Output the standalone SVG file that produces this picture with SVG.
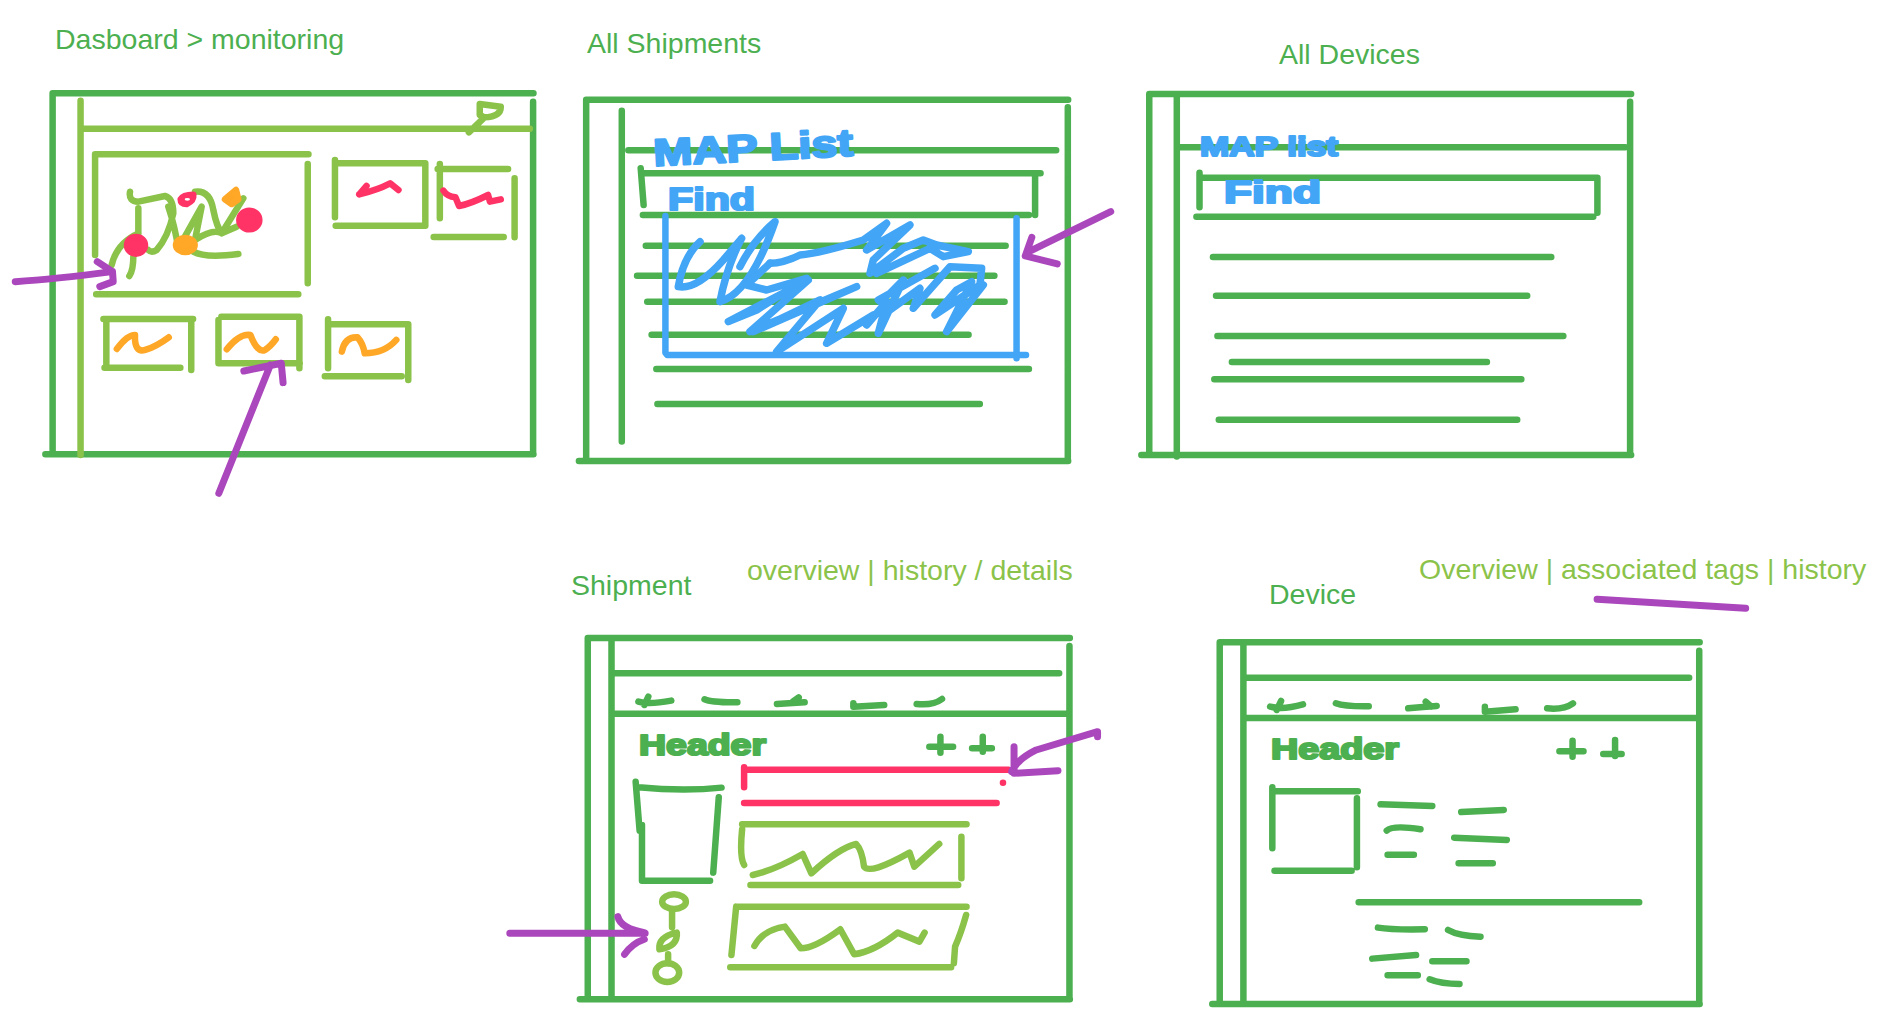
<svg xmlns="http://www.w3.org/2000/svg" width="1889" height="1024" viewBox="0 0 1889 1024">
<style>
path,ellipse,circle{fill:none;stroke-width:6.5;stroke-linecap:round;stroke-linejoin:round;vector-effect:non-scaling-stroke}
.d{stroke:#4CAF50}.l{stroke:#8BC34A}.b{stroke:#42A5F5}.p{stroke:#FF3366}.o{stroke:#FFA726}
.s{stroke:#42A5F5;stroke-width:7.5}
.a{stroke:#AB47BC;stroke-width:7}
.fp{fill:#FF3366;stroke:#FF3366}.fo{fill:#FFA726;stroke:#FFA726}
.hole{fill:#fff;stroke:none}
text{font-family:"Liberation Sans",Arial,sans-serif;font-size:28.5px}
.td{fill:#4CAF50}.tl{fill:#8BC34A}
.hb{fill:#42A5F5;stroke:#42A5F5;stroke-width:2.2;stroke-linejoin:round;font-weight:bold}
.hd{fill:#4CAF50;stroke:#4CAF50;stroke-width:2.2;stroke-linejoin:round;font-weight:bold}
</style>
<rect width="1889" height="1024" fill="#fff"/>

<g id="dashboard-monitoring">
<text class="td" x="55" y="49">Dasboard &gt; monitoring</text>
<g transform="scale(.3629 .3333)">
<path class="d" d="M1470 280H145V1363M1469 305V1363M125 1363H1470"/>
<path class="l" d="M222 302V1365M230 386H1460M1292 397L1335 352Q1380 350 1380 320L1322 312V345L1335 352"/>
<path class="l" d="M262 765V463H850M848 492V850M265 883H822"/>
<path class="l" d="M923 480V652M925 490H1172V677H925"/>
<path class="l" d="M1212 492V655M1206 507H1400M1418 535V712M1195 711H1388"/>
<path class="l" d="M285 957H532M293 960V1095M527 960V1110M288 1103H497"/>
<path class="l" d="M602 960V1090H826M610 950H825V1105"/>
<path class="l" d="M904 958V1105M905 973H1125V1140M895 1129H1107"/>
<path class="p" d="M990 583L1010 558M990 583Q1040 570 1075 550L1098 570"/>
<path class="p" d="M1222 572Q1232 590 1255 592L1265 618Q1300 610 1345 585L1350 605L1380 598"/>
<path class="o" d="M322 1047Q350 1005 372 1005Q370 1060 400 1050Q430 1040 465 1012"/>
<path class="o" d="M625 1048Q660 1000 690 1005Q710 1060 730 1050Q745 1040 760 1018"/>
<path class="o" d="M942 1055Q950 1010 985 1012Q1000 1030 1005 1060Q1060 1060 1092 1020"/>
</g>
<g transform="translate(110 170) scale(.3333)">
<path class="l" d="M60 65Q55 95 85 95L165 78Q190 85 190 130Q175 200 140 240Q125 250 115 240M85 115V190M85 190Q20 220 5 285M70 260Q70 300 58 318M175 110Q195 170 205 235L275 110L255 210Q310 175 335 190L400 85M255 65Q300 60 310 120Q320 170 335 190L380 170M250 245Q285 265 385 252"/>
<ellipse class="fp" cx="78" cy="226" rx="27" ry="25"/>
<ellipse class="fp" cx="418" cy="150" rx="30" ry="28"/>
<path class="fp" d="M212 88Q220 74 250 74Q252 92 230 102Q212 102 212 88Z"/>
<ellipse class="hole" cx="232" cy="88" rx="8" ry="4"/>
<ellipse class="fo" cx="226" cy="225" rx="28" ry="21"/>
<path class="fo" d="M345 88L378 60L385 88L365 102Z"/>
</g>
</g>

<g id="all-shipments">
<text class="td" x="587" y="53">All Shipments</text>
<g transform="translate(560 0) scale(.3635 .3333)">
<path class="d" d="M1398 299H72V1383M1397 322V1383M52 1383H1398M170 332V1325M188 451H1365M222 505L230 615M228 520H1322M1307 525V645M228 645H1290M236 737H1226M212 827H1195M240 905H1223M252 1004H1124M265 1107H1290M268 1212H1155"/>
<path class="b" d="M290 648V1058L295 1065H1282M1256 655V1075"/>
</g>
<g transform="translate(660 210) scale(.3333)">
<path class="s" d="M120 95Q70 140 55 230Q110 240 190 150L245 85Q200 170 180 275Q270 250 345 35Q280 90 240 170"/>
<path class="s" d="M330 160Q370 160 420 135Q480 130 610 90L680 40L620 120L750 45L640 150L630 190L730 115L790 90L830 105L925 125L850 140L810 115L650 190"/>
<path class="s" d="M330 160L260 225L320 240L440 205L290 300L205 335L445 210L270 365L590 230L280 365L480 270L350 425L550 295L500 400L640 315L620 345L680 275L655 370L730 210L690 250L825 175L655 270L690 300L780 235L760 295L870 170L965 175L960 225L825 315L890 240L935 215L860 365L970 225"/>
</g>
<text class="hb" x="654" y="166" style="font-size:38px" textLength="200" lengthAdjust="spacingAndGlyphs" transform="rotate(-3 654 166)">MAP List</text>
<text class="hb" x="668" y="210" style="font-size:32px" textLength="87" lengthAdjust="spacingAndGlyphs">Find</text>
</g>

<g id="all-devices">
<text class="td" x="1279" y="64">All Devices</text>
<g transform="translate(1120 20) scale(.3442 .3333)">
<path class="d" d="M1485 222H85V1305M1482 245V1305M62 1305H1485M165 230V1310M165 382H1468M231 458V562M238 473H1387V578M222 590H1375M270 711H1253M279 827H1183M283 948H1288M325 1026H1066M274 1078H1166M287 1199H1154"/>
</g>
<text class="hb" x="1200" y="156" style="font-size:28px" textLength="138" lengthAdjust="spacingAndGlyphs">MAP list</text>
<text class="hb" x="1224" y="203" style="font-size:32px" textLength="97" lengthAdjust="spacingAndGlyphs">Find</text>
</g>

<g id="shipment">
<text class="td" x="571" y="595">Shipment</text>
<text class="tl" x="747" y="580">overview | history / details</text>
<g transform="translate(490 540) scale(.3958 .3333)">
<path class="d" d="M1465 294H247V1378M1464 318V1378M227 1378H1465M307 300V1378M312 400H1438M312 521H1460"/>
<path class="d" d="M375 485Q400 495 458 482M400 470L390 495M542 478Q560 488 625 487M725 492L795 487M765 485L780 472M918 490V500L996 495M1078 492Q1120 497 1142 477"/>
<path class="d" d="M1110 620H1170M1138 590V638M1218 625H1268M1245 590V635"/>
<path class="d" d="M368 725L378 872M375 742Q490 755 585 743M578 772L564 998M384 855V1022H556"/>
<path class="p" d="M642 682V742M648 689H1310M642 789H1280M1296 728h.1"/>
<path class="l" d="M637 853H1204M637 868Q630 950 642 975M1191 890V1015M658 1035H1183M664 1005Q720 990 790 942L812 1000Q880 925 925 912Q940 930 945 980Q960 1005 1060 938L1072 980L1135 912"/>
<path class="l" d="M622 1100H1204M622 1100L610 1245M1203 1125Q1190 1180 1175 1220L1172 1270M607 1282H1165M668 1218Q690 1170 745 1160L785 1225Q820 1225 885 1168L920 1243Q970 1235 1030 1178L1085 1205L1098 1178"/>
<ellipse class="l" cx="465" cy="1085" rx="30" ry="22"/>
<path class="l" d="M460 1115V1162M428 1228Q425 1190 472 1178Q475 1220 428 1228ZM450 1243V1270"/>
<ellipse class="l" cx="448" cy="1298" rx="30" ry="28"/>
</g>
<text class="hd" x="639" y="755" style="font-size:30px" textLength="127" lengthAdjust="spacingAndGlyphs">Header</text>
</g>

<g id="device">
<text class="td" x="1269" y="604">Device</text>
<text class="tl" x="1419" y="579">Overview | associated tags | history</text>
<g transform="translate(1200 540) scale(.4383 .3333)">
<path class="d" d="M1140 307H45V1392M1139 332V1392M28 1392H1140M99 312V1392M105 413H1116M105 534H1135"/>
<path class="d" d="M160 500Q190 510 235 493M185 483L175 510M310 490Q330 500 385 499M475 505Q510 500 540 498M515 485L528 500M650 500V515L720 508M792 505Q830 510 851 490"/>
<path class="d" d="M820 634H875M850 602V650M920 642H962M947 600V648"/>
<path class="d" d="M165 742V925M170 754H360M358 775V982M170 992H346"/>
<path class="d" d="M412 793L530 798M426 872Q440 855 503 868M428 944H488M596 816L693 810M580 893L700 900M590 970H668M362 1087H1002M406 1163Q440 1170 513 1168M566 1170Q590 1188 640 1190M393 1256L493 1245M530 1264H608M428 1306H497M524 1318Q550 1332 592 1332"/>
</g>
<text class="hd" x="1271" y="759" style="font-size:30px" textLength="128" lengthAdjust="spacingAndGlyphs">Header</text>
</g>

<g id="connectors">
<g transform="scale(.3629 .3333)">
<path class="a" d="M42 845Q150 838 310 815M268 785L310 815L312 845L275 860"/>
<path class="a" d="M603 1480L745 1095M672 1113L775 1090L780 1148"/>
</g>
<g transform="translate(560 0) scale(.3635 .3333)">
<path class="a" d="M1515 635L1290 755M1298 712L1280 768L1368 792"/>
</g>
<g transform="translate(490 540) scale(.3958 .3333)">
<path class="a" d="M50 1180H392M323 1130Q330 1165 390 1178M340 1243Q360 1210 390 1198"/>
<path class="a" d="M1535 590V575Q1450 605 1380 630Q1330 660 1318 695M1324 620V700L1435 692"/>
</g>
<g transform="translate(1200 540) scale(.4383 .3333)">
<path class="a" d="M906 178Q1050 190 1245 205"/>
</g>
</g>
</svg>
